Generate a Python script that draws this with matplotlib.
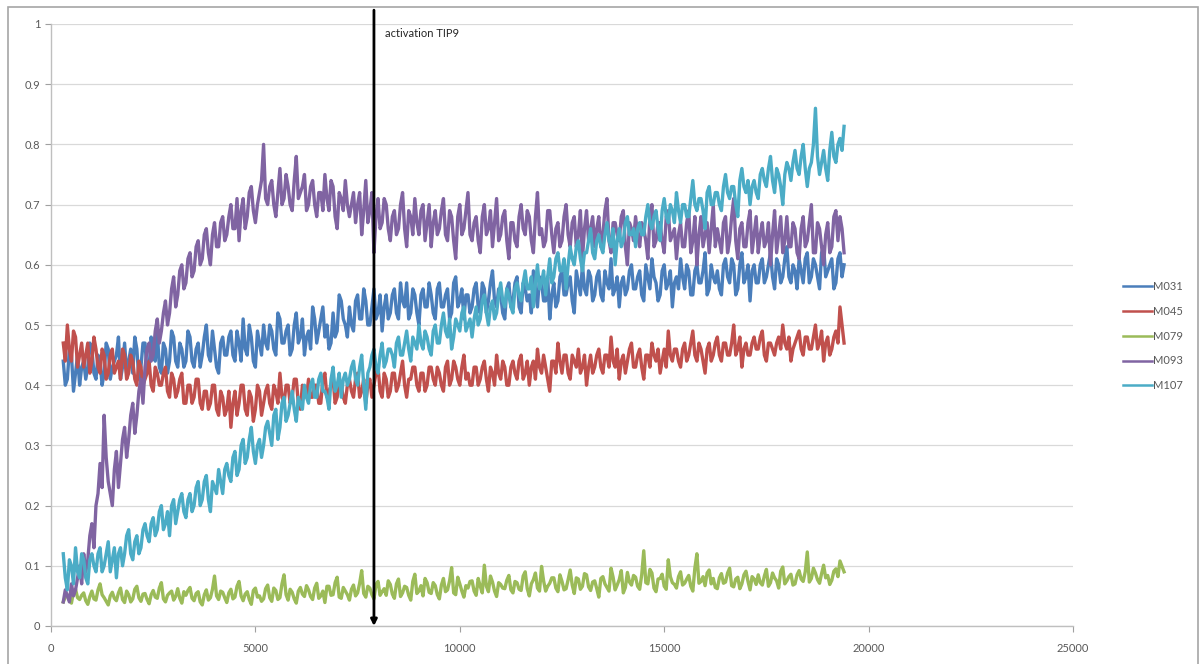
import numpy as np
import matplotlib
matplotlib.use("Agg")
import matplotlib.pyplot as plt
from matplotlib.patches import Rectangle

# readings every 50 units (300 .. 19400); each series is stored as the
# samples on the hundreds (300, 400, ...) and the ones between (350, 450, ...)
x = np.arange(300, 19401, 50)

m031 = [0.44, 0.41, 0.45, 0.42, 0.40, 0.44, 0.43, 0.46, 0.41, 0.44,
        0.42, 0.46, 0.43, 0.45, 0.41, 0.47, 0.44, 0.42, 0.46, 0.43,
        0.47, 0.43, 0.45, 0.49, 0.42, 0.46, 0.44, 0.48, 0.43, 0.46,
        0.44, 0.48, 0.43, 0.47, 0.45, 0.50, 0.44, 0.46, 0.42, 0.48,
        0.45, 0.49, 0.44, 0.47, 0.51, 0.45, 0.48, 0.43, 0.47, 0.50,
        0.46, 0.49, 0.45, 0.51, 0.47, 0.50, 0.46, 0.52, 0.48, 0.45,
        0.49, 0.53, 0.47, 0.51, 0.48, 0.46, 0.52, 0.49, 0.54, 0.50,
        0.53, 0.49, 0.55, 0.51, 0.54, 0.50, 0.56, 0.52, 0.49, 0.55,
        0.52, 0.56, 0.51, 0.54, 0.57, 0.52, 0.55, 0.50, 0.56, 0.53,
        0.55, 0.51, 0.57, 0.53, 0.56, 0.52, 0.58, 0.54, 0.51, 0.55,
        0.53, 0.57, 0.52, 0.56, 0.54, 0.59, 0.53, 0.55, 0.51, 0.57,
        0.54, 0.58, 0.52, 0.56, 0.55, 0.59, 0.53, 0.57, 0.54, 0.51,
        0.57, 0.54, 0.59, 0.55, 0.58, 0.52, 0.57, 0.60, 0.55, 0.58,
        0.55, 0.59, 0.54, 0.57, 0.61, 0.56, 0.53, 0.58, 0.56, 0.60,
        0.56, 0.59, 0.54, 0.58, 0.61, 0.57, 0.55, 0.60, 0.57, 0.53,
        0.58, 0.61, 0.56, 0.59, 0.55, 0.60, 0.57, 0.62, 0.56, 0.58,
        0.59, 0.55, 0.61, 0.57, 0.60, 0.56, 0.62, 0.58, 0.54, 0.60,
        0.57, 0.61, 0.58, 0.62, 0.56, 0.60, 0.58, 0.63, 0.57, 0.59,
        0.61, 0.57, 0.62, 0.58, 0.60, 0.56, 0.63, 0.59, 0.61, 0.57,
        0.62, 0.60]
m031_mid = [0.40, 0.46, 0.39, 0.45, 0.43, 0.41, 0.47, 0.42, 0.45, 0.40,
            0.47, 0.41, 0.44, 0.48, 0.43, 0.42, 0.46, 0.48, 0.41, 0.47,
            0.42, 0.48, 0.44, 0.43, 0.47, 0.42, 0.49, 0.44, 0.47, 0.43,
            0.49, 0.44, 0.46, 0.43, 0.48, 0.45, 0.49, 0.43, 0.47, 0.45,
            0.48, 0.45, 0.49, 0.44, 0.46, 0.50, 0.44, 0.49, 0.45, 0.47,
            0.50, 0.46, 0.52, 0.47, 0.49, 0.45, 0.50, 0.47, 0.51, 0.48,
            0.46, 0.51, 0.49, 0.53, 0.50, 0.47, 0.48, 0.55, 0.51, 0.48,
            0.50, 0.54, 0.51, 0.56, 0.50, 0.53, 0.51, 0.55, 0.53, 0.51,
            0.55, 0.52, 0.57, 0.53, 0.51, 0.56, 0.52, 0.55, 0.53, 0.57,
            0.52, 0.56, 0.53, 0.55, 0.51, 0.57, 0.53, 0.56, 0.55, 0.52,
            0.56, 0.53, 0.57, 0.52, 0.57, 0.54, 0.56, 0.52, 0.56, 0.53,
            0.57, 0.53, 0.57, 0.54, 0.52, 0.56, 0.58, 0.54, 0.58, 0.55,
            0.53, 0.58, 0.55, 0.57, 0.54, 0.59, 0.55, 0.56, 0.59, 0.54,
            0.58, 0.55, 0.59, 0.56, 0.55, 0.58, 0.57, 0.55, 0.59, 0.56,
            0.58, 0.55, 0.60, 0.56, 0.58, 0.54, 0.59, 0.56, 0.59, 0.57,
            0.56, 0.58, 0.60, 0.55, 0.59, 0.57, 0.59, 0.55, 0.60, 0.57,
            0.56, 0.60, 0.58, 0.61, 0.55, 0.60, 0.57, 0.60, 0.59, 0.57,
            0.60, 0.57, 0.60, 0.58, 0.61, 0.57, 0.61, 0.58, 0.60, 0.56,
            0.59, 0.61, 0.57, 0.61, 0.58, 0.62, 0.58, 0.60, 0.56, 0.61,
            0.58]

m045 = [0.47, 0.50, 0.44, 0.48, 0.45, 0.43, 0.47, 0.44, 0.46, 0.42,
        0.45, 0.42, 0.46, 0.43, 0.41, 0.45, 0.42, 0.44, 0.40, 0.43,
        0.41, 0.44, 0.39, 0.42, 0.40, 0.43, 0.38, 0.41, 0.39, 0.42,
        0.37, 0.40, 0.38, 0.41, 0.36, 0.39, 0.37, 0.40, 0.35, 0.38,
        0.36, 0.33, 0.39, 0.37, 0.40, 0.35, 0.38, 0.36, 0.39, 0.37,
        0.40, 0.36, 0.39, 0.42, 0.37, 0.40, 0.38, 0.41, 0.36, 0.39,
        0.41, 0.38, 0.40, 0.37, 0.42, 0.39, 0.41, 0.38, 0.40, 0.37,
        0.41, 0.38, 0.42, 0.39, 0.37, 0.41, 0.40, 0.43, 0.38, 0.41,
        0.39, 0.42, 0.40, 0.44, 0.38, 0.41, 0.43, 0.39, 0.42, 0.40,
        0.43, 0.40, 0.42, 0.39, 0.44, 0.41, 0.43, 0.40, 0.45, 0.42,
        0.40, 0.43, 0.41, 0.44, 0.39, 0.42, 0.45, 0.41, 0.43, 0.40,
        0.44, 0.41, 0.45, 0.42, 0.40, 0.44, 0.46, 0.42, 0.43, 0.39,
        0.44, 0.47, 0.42, 0.45, 0.41, 0.44, 0.46, 0.43, 0.40, 0.45,
        0.43, 0.46, 0.42, 0.45, 0.48, 0.43, 0.41, 0.45, 0.44, 0.47,
        0.43, 0.46, 0.41, 0.45, 0.47, 0.44, 0.42, 0.46, 0.49, 0.44,
        0.46, 0.43, 0.47, 0.45, 0.49, 0.44, 0.46, 0.42, 0.47, 0.45,
        0.48, 0.44, 0.47, 0.45, 0.50, 0.46, 0.43, 0.47, 0.45, 0.48,
        0.46, 0.49, 0.44, 0.47, 0.45, 0.48, 0.50, 0.46, 0.44, 0.47,
        0.49, 0.45, 0.48, 0.46, 0.50, 0.47, 0.44, 0.48, 0.46, 0.49,
        0.53, 0.47]
m045_mid = [0.44, 0.46, 0.49, 0.43, 0.47, 0.45, 0.42, 0.48, 0.43, 0.46,
            0.41, 0.45, 0.42, 0.44, 0.46, 0.41, 0.45, 0.41, 0.44, 0.40,
            0.42, 0.40, 0.43, 0.40, 0.42, 0.39, 0.42, 0.38, 0.41, 0.37,
            0.40, 0.37, 0.41, 0.37, 0.39, 0.36, 0.40, 0.36, 0.39, 0.35,
            0.39, 0.37, 0.35, 0.40, 0.36, 0.39, 0.34, 0.40, 0.35, 0.39,
            0.37, 0.40, 0.37, 0.38, 0.40, 0.37, 0.41, 0.37, 0.40, 0.38,
            0.38, 0.40, 0.37, 0.41, 0.38, 0.40, 0.37, 0.41, 0.38, 0.40,
            0.39, 0.41, 0.38, 0.41, 0.40, 0.38, 0.42, 0.39, 0.42, 0.38,
            0.42, 0.39, 0.42, 0.40, 0.41, 0.43, 0.40, 0.42, 0.39, 0.43,
            0.41, 0.43, 0.40, 0.43, 0.40, 0.44, 0.41, 0.43, 0.41, 0.40,
            0.43, 0.40, 0.43, 0.41, 0.43, 0.40, 0.42, 0.44, 0.40, 0.43,
            0.42, 0.44, 0.41, 0.44, 0.43, 0.41, 0.43, 0.45, 0.41, 0.44,
            0.42, 0.44, 0.45, 0.42, 0.45, 0.43, 0.42, 0.45, 0.43, 0.42,
            0.45, 0.43, 0.45, 0.43, 0.44, 0.46, 0.44, 0.42, 0.46, 0.43,
            0.45, 0.43, 0.45, 0.43, 0.45, 0.46, 0.44, 0.43, 0.45, 0.46,
            0.44, 0.46, 0.44, 0.47, 0.45, 0.47, 0.44, 0.46, 0.44, 0.47,
            0.45, 0.47, 0.45, 0.47, 0.45, 0.48, 0.46, 0.45, 0.47, 0.46,
            0.48, 0.45, 0.47, 0.46, 0.47, 0.46, 0.47, 0.48, 0.46, 0.48,
            0.46, 0.48, 0.46, 0.48, 0.46, 0.49, 0.47, 0.45, 0.48, 0.47,
            0.50]

m079 = [0.040, 0.052, 0.038, 0.061, 0.044, 0.055, 0.036, 0.058, 0.043, 0.070,
        0.047, 0.035, 0.056, 0.042, 0.063, 0.039, 0.052, 0.045, 0.066, 0.041,
        0.054, 0.037, 0.059, 0.046, 0.072, 0.040, 0.055, 0.043, 0.062, 0.038,
        0.051, 0.064, 0.042, 0.057, 0.035, 0.060, 0.047, 0.083, 0.044, 0.056,
        0.039, 0.061, 0.048, 0.074, 0.042, 0.057, 0.036, 0.063, 0.050, 0.045,
        0.068, 0.041, 0.059, 0.047, 0.085, 0.043, 0.056, 0.038, 0.064, 0.049,
        0.060, 0.044, 0.071, 0.050, 0.039, 0.066, 0.052, 0.081, 0.046, 0.058,
        0.043, 0.068, 0.055, 0.092, 0.048, 0.063, 0.045, 0.074, 0.057, 0.051,
        0.069, 0.046, 0.078, 0.055, 0.064, 0.043, 0.086, 0.058, 0.050, 0.072,
        0.054, 0.067, 0.045, 0.079, 0.060, 0.097, 0.052, 0.070, 0.048, 0.063,
        0.075, 0.051, 0.066, 0.101, 0.057, 0.073, 0.049, 0.069, 0.062, 0.084,
        0.055, 0.072, 0.059, 0.090, 0.050, 0.077, 0.063, 0.099, 0.058, 0.071,
        0.080, 0.057, 0.074, 0.062, 0.093, 0.054, 0.078, 0.066, 0.085, 0.059,
        0.075, 0.048, 0.082, 0.064, 0.096, 0.060, 0.077, 0.055, 0.089, 0.068,
        0.081, 0.061, 0.125, 0.070, 0.088, 0.057, 0.079, 0.066, 0.110, 0.072,
        0.063, 0.090, 0.071, 0.084, 0.058, 0.120, 0.074, 0.067, 0.093, 0.079,
        0.062, 0.087, 0.073, 0.096, 0.065, 0.081, 0.070, 0.091, 0.060, 0.078,
        0.085, 0.068, 0.094, 0.072, 0.080, 0.063, 0.098, 0.075, 0.086, 0.070,
        0.092, 0.074, 0.123, 0.079, 0.088, 0.071, 0.101, 0.084, 0.076, 0.095,
        0.108, 0.090]
m079_mid = [0.048, 0.043, 0.057, 0.047, 0.051, 0.042, 0.049, 0.045, 0.060, 0.052,
            0.041, 0.050, 0.046, 0.055, 0.044, 0.058, 0.040, 0.061, 0.047, 0.053,
            0.044, 0.052, 0.048, 0.063, 0.045, 0.051, 0.058, 0.049, 0.046, 0.057,
            0.059, 0.046, 0.054, 0.040, 0.052, 0.043, 0.061, 0.050, 0.058, 0.047,
            0.055, 0.045, 0.066, 0.050, 0.053, 0.044, 0.059, 0.048, 0.041, 0.062,
            0.047, 0.063, 0.044, 0.070, 0.052, 0.061, 0.045, 0.058, 0.053, 0.067,
            0.049, 0.063, 0.046, 0.058, 0.066, 0.051, 0.072, 0.048, 0.064, 0.052,
            0.061, 0.050, 0.071, 0.054, 0.066, 0.052, 0.069, 0.051, 0.062, 0.075,
            0.053, 0.070, 0.049, 0.066, 0.051, 0.074, 0.054, 0.067, 0.079, 0.056,
            0.072, 0.052, 0.068, 0.057, 0.075, 0.055, 0.081, 0.058, 0.067, 0.074,
            0.058, 0.079, 0.055, 0.066, 0.083, 0.058, 0.072, 0.063, 0.076, 0.060,
            0.074, 0.061, 0.083, 0.062, 0.070, 0.088, 0.058, 0.075, 0.066, 0.080,
            0.063, 0.085, 0.060, 0.077, 0.068, 0.080, 0.061, 0.087, 0.065, 0.073,
            0.062, 0.079, 0.070, 0.058, 0.081, 0.068, 0.092, 0.064, 0.073, 0.084,
            0.066, 0.085, 0.072, 0.094, 0.063, 0.078, 0.086, 0.061, 0.082, 0.069,
            0.082, 0.068, 0.078, 0.066, 0.096, 0.071, 0.082, 0.088, 0.070, 0.064,
            0.080, 0.071, 0.088, 0.067, 0.078, 0.062, 0.085, 0.074, 0.082, 0.069,
            0.072, 0.083, 0.066, 0.088, 0.075, 0.091, 0.070, 0.082, 0.068, 0.085,
            0.078, 0.090, 0.073, 0.096, 0.077, 0.087, 0.080, 0.069, 0.091, 0.082,
            0.099]

m093 = [0.04, 0.05, 0.07, 0.06, 0.10, 0.12, 0.11, 0.17, 0.20, 0.27,
        0.35, 0.24, 0.20, 0.29, 0.27, 0.33, 0.31, 0.37, 0.35, 0.41,
        0.43, 0.47, 0.45, 0.51, 0.49, 0.54, 0.52, 0.58, 0.55, 0.60,
        0.57, 0.62, 0.59, 0.64, 0.61, 0.66, 0.60, 0.67, 0.63, 0.68,
        0.65, 0.70, 0.66, 0.64, 0.71, 0.68, 0.73, 0.67, 0.72, 0.80,
        0.70, 0.74, 0.68, 0.76, 0.71, 0.73, 0.69, 0.78, 0.72, 0.75,
        0.70, 0.74, 0.68, 0.72, 0.75, 0.69, 0.73, 0.66, 0.71, 0.74,
        0.68, 0.72, 0.70, 0.65, 0.74, 0.69, 0.62, 0.71, 0.67, 0.70,
        0.64, 0.69, 0.66, 0.72, 0.63, 0.68, 0.71, 0.65, 0.70, 0.67,
        0.63, 0.69, 0.66, 0.71, 0.64, 0.68, 0.61, 0.70, 0.66, 0.72,
        0.64, 0.68, 0.62, 0.70, 0.66, 0.63, 0.71, 0.65, 0.69, 0.61,
        0.67, 0.63, 0.70, 0.65, 0.68, 0.62, 0.72, 0.66, 0.64, 0.69,
        0.62, 0.67, 0.64, 0.70, 0.63, 0.68, 0.65, 0.61, 0.69, 0.66,
        0.63, 0.68, 0.65, 0.71, 0.62, 0.67, 0.64, 0.69, 0.60, 0.66,
        0.68, 0.63, 0.66, 0.61, 0.70, 0.64, 0.67, 0.62, 0.69, 0.65,
        0.61, 0.67, 0.63, 0.69, 0.64, 0.60, 0.68, 0.65, 0.62, 0.70,
        0.66, 0.62, 0.68, 0.64, 0.71, 0.61, 0.67, 0.63, 0.69, 0.65,
        0.62, 0.67, 0.64, 0.60, 0.69, 0.65, 0.62, 0.68, 0.63, 0.66,
        0.61, 0.68, 0.64, 0.70, 0.62, 0.66, 0.60, 0.67, 0.63, 0.69,
        0.68, 0.62]
m093_mid = [0.06, 0.04, 0.05, 0.08, 0.07, 0.09, 0.15, 0.13, 0.22, 0.23,
            0.28, 0.22, 0.26, 0.23, 0.31, 0.28, 0.35, 0.32, 0.39, 0.37,
            0.46, 0.44, 0.49, 0.47, 0.52, 0.50, 0.56, 0.53, 0.59, 0.56,
            0.61, 0.58, 0.63, 0.60, 0.65, 0.62, 0.65, 0.63, 0.67, 0.64,
            0.68, 0.66, 0.71, 0.69, 0.66, 0.72, 0.69, 0.70, 0.74, 0.71,
            0.73, 0.70, 0.72, 0.70, 0.75, 0.70, 0.74, 0.71, 0.73, 0.69,
            0.73, 0.70, 0.72, 0.69, 0.71, 0.74, 0.68, 0.72, 0.69, 0.70,
            0.70, 0.67, 0.72, 0.69, 0.67, 0.72, 0.68, 0.66, 0.71, 0.66,
            0.68, 0.65, 0.70, 0.66, 0.69, 0.65, 0.67, 0.69, 0.64, 0.70,
            0.67, 0.65, 0.69, 0.65, 0.69, 0.64, 0.68, 0.65, 0.69, 0.65,
            0.67, 0.64, 0.68, 0.65, 0.69, 0.67, 0.64, 0.68, 0.64, 0.67,
            0.64, 0.68, 0.66, 0.69, 0.64, 0.68, 0.65, 0.63, 0.69, 0.65,
            0.66, 0.63, 0.68, 0.65, 0.67, 0.63, 0.69, 0.66, 0.64, 0.68,
            0.66, 0.63, 0.69, 0.64, 0.67, 0.65, 0.68, 0.63, 0.67, 0.64,
            0.65, 0.67, 0.64, 0.68, 0.63, 0.67, 0.64, 0.68, 0.64, 0.66,
            0.65, 0.63, 0.67, 0.62, 0.68, 0.65, 0.63, 0.67, 0.66, 0.63,
            0.64, 0.67, 0.62, 0.68, 0.64, 0.66, 0.63, 0.67, 0.62, 0.68,
            0.65, 0.63, 0.67, 0.65, 0.62, 0.68, 0.64, 0.63, 0.67, 0.62,
            0.66, 0.63, 0.67, 0.62, 0.67, 0.63, 0.65, 0.62, 0.68, 0.64,
            0.66]

m107 = [0.12, 0.06, 0.10, 0.13, 0.08, 0.11, 0.07, 0.12, 0.09, 0.13,
        0.10, 0.14, 0.11, 0.08, 0.13, 0.12, 0.16, 0.11, 0.15, 0.13,
        0.17, 0.14, 0.18, 0.16, 0.20, 0.17, 0.15, 0.21, 0.19, 0.22,
        0.18, 0.22, 0.20, 0.24, 0.21, 0.25, 0.19, 0.23, 0.26, 0.22,
        0.27, 0.24, 0.29, 0.26, 0.31, 0.28, 0.33, 0.27, 0.31, 0.30,
        0.34, 0.30, 0.36, 0.33, 0.38, 0.35, 0.39, 0.34, 0.37, 0.40,
        0.37, 0.41, 0.38, 0.42, 0.39, 0.36, 0.43, 0.40, 0.38, 0.42,
        0.41, 0.44, 0.40, 0.45, 0.36, 0.43, 0.46, 0.42, 0.47, 0.44,
        0.46, 0.43, 0.48, 0.45, 0.49, 0.44, 0.47, 0.50, 0.46, 0.48,
        0.45, 0.50, 0.47, 0.52, 0.48, 0.46, 0.51, 0.49, 0.53, 0.50,
        0.48, 0.53, 0.51, 0.55, 0.50, 0.54, 0.52, 0.57, 0.53, 0.55,
        0.52, 0.57, 0.54, 0.59, 0.56, 0.53, 0.60, 0.57, 0.55, 0.61,
        0.58, 0.62, 0.59, 0.56, 0.63, 0.60, 0.64, 0.59, 0.62, 0.66,
        0.61, 0.65, 0.62, 0.67, 0.63, 0.60, 0.66, 0.64, 0.68, 0.65,
        0.63, 0.67, 0.65, 0.70, 0.66, 0.69, 0.64, 0.71, 0.67, 0.69,
        0.72, 0.67, 0.70, 0.68, 0.74, 0.69, 0.71, 0.66, 0.73, 0.70,
        0.72, 0.69, 0.75, 0.71, 0.73, 0.68, 0.76, 0.72, 0.70, 0.74,
        0.71, 0.76, 0.73, 0.78, 0.72, 0.75, 0.70, 0.77, 0.74, 0.79,
        0.75, 0.80, 0.73, 0.77, 0.86, 0.75, 0.79, 0.74, 0.82, 0.77,
        0.81, 0.83]
m107_mid = [0.08, 0.11, 0.07, 0.09, 0.12, 0.08, 0.11, 0.10, 0.12, 0.09,
            0.12, 0.09, 0.13, 0.12, 0.10, 0.15, 0.12, 0.14, 0.12, 0.16,
            0.15, 0.17, 0.15, 0.19, 0.16, 0.19, 0.20, 0.17, 0.21, 0.19,
            0.21, 0.19, 0.23, 0.20, 0.24, 0.21, 0.24, 0.22, 0.24, 0.26,
            0.25, 0.28, 0.25, 0.30, 0.27, 0.31, 0.29, 0.30, 0.28, 0.33,
            0.32, 0.35, 0.31, 0.37, 0.34, 0.37, 0.36, 0.38, 0.36, 0.38,
            0.40, 0.38, 0.41, 0.39, 0.38, 0.41, 0.39, 0.42, 0.41, 0.40,
            0.43, 0.41, 0.43, 0.40, 0.42, 0.45, 0.43, 0.45, 0.43, 0.46,
            0.45, 0.47, 0.45, 0.47, 0.46, 0.48, 0.46, 0.47, 0.49, 0.46,
            0.49, 0.47, 0.50, 0.49, 0.51, 0.48, 0.50, 0.52, 0.49, 0.51,
            0.51, 0.50, 0.54, 0.52, 0.53, 0.51, 0.55, 0.54, 0.56, 0.53,
            0.56, 0.55, 0.57, 0.56, 0.58, 0.57, 0.56, 0.59, 0.58, 0.57,
            0.61, 0.59, 0.61, 0.60, 0.61, 0.63, 0.61, 0.62, 0.64, 0.62,
            0.64, 0.63, 0.65, 0.64, 0.66, 0.64, 0.63, 0.67, 0.65, 0.66,
            0.66, 0.65, 0.68, 0.67, 0.68, 0.66, 0.69, 0.68, 0.70, 0.67,
            0.69, 0.70, 0.68, 0.71, 0.70, 0.71, 0.69, 0.72, 0.70, 0.72,
            0.70, 0.73, 0.72, 0.73, 0.70, 0.74, 0.73, 0.74, 0.73, 0.72,
            0.75, 0.74, 0.76, 0.74, 0.76, 0.73, 0.75, 0.76, 0.77, 0.76,
            0.78, 0.76, 0.76, 0.80, 0.78, 0.77, 0.76, 0.79, 0.78, 0.80,
            0.79]

names = ["M031", "M045", "M079", "M093", "M107"]
colors = ["#4A7EBB", "#C0504D", "#9BBB59", "#8064A2", "#4BACC6"]
series = [(m031, m031_mid), (m045, m045_mid), (m079, m079_mid), (m093, m093_mid), (m107, m107_mid)]


def merge(main, mid):
    # put the in-between readings back in time order
    y = np.empty(len(main) + len(mid))
    y[0::2] = main
    y[1::2] = mid
    return y


plt.rcParams['font.family'] = ['Lato', 'DejaVu Sans']

fig = plt.figure(figsize=(12.03, 6.64), dpi=100)
ax = fig.add_axes([51 / 1203, 1 - 626 / 664, 1022 / 1203, 602 / 664])

for name, (main, mid), c in zip(names, series, colors):
    ax.plot(x, merge(main, mid), color=c, lw=2.4, label=name)

ax.set_xlim(0, 25000)
ax.set_ylim(0, 1)
ax.set_xticks(np.arange(0, 25001, 5000))
ax.set_yticks(np.arange(0, 1.01, 0.1))
ax.set_yticklabels(["0", "0.1", "0.2", "0.3", "0.4", "0.5", "0.6", "0.7", "0.8", "0.9", "1"])
ax.tick_params(axis='both', colors='#A0A0A0', labelcolor='#595959', labelsize=8, length=4, width=0.8)
ax.tick_params(axis='x', pad=8)
ax.grid(axis='y', color='#D9D9D9', lw=0.9)
ax.set_axisbelow(True)
for s in ['top', 'right']:
    ax.spines[s].set_visible(False)
for s in ['left', 'bottom']:
    ax.spines[s].set_color('#BFBFBF')
    ax.spines[s].set_linewidth(1.0)

# activation arrow
ax.annotate('', xy=(7900, 0), xytext=(7900, 1.023),
            arrowprops=dict(arrowstyle='-|>', color='black', lw=2, mutation_scale=9, shrinkA=0, shrinkB=0),
            annotation_clip=False)
ax.text(8180, 0.985, "activation TIP9", fontsize=8, color='#262626', va='center', ha='left')

leg = ax.legend(loc='center left', bbox_to_anchor=(1113 / 1203, 1 - 336 / 664), bbox_transform=fig.transFigure,
                frameon=False, fontsize=8, handlelength=2.6, handletextpad=0.1, labelspacing=1.25)
for line in leg.get_lines():
    line.set_linewidth(1.8)
for t in leg.get_texts():
    t.set_color('#595959')

# chart border
fig.patches.append(Rectangle((8 / 1203, -0.01), 1190 / 1203, 1 - 7 / 664 + 0.01, transform=fig.transFigure,
                             fill=False, edgecolor='#A6A6A6', lw=1.2))

fig.savefig("out.png", dpi=100)
